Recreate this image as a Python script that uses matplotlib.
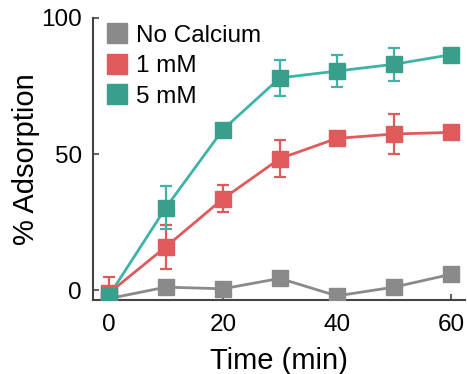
import numpy as np
import matplotlib.pyplot as plt

plt.rcParams['font.family'] = ['Liberation Sans', 'DejaVu Sans']

time_min = [0, 10, 20, 30, 40, 50, 60]

no_ca = [-3, 1.2, 0.6, 4.4, -2, 1.2, 5.9]
no_ca_err = [0, 0, 0, 0, 2.2, 0, 0]

ca_1mm = [-1, 16, 33.6, 48.4, 55.8, 57.4, 58]
ca_1mm_err = [6, 8, 5, 6.7, 0, 7.4, 0]

ca_5mm = [-2, 30.4, 59, 78, 80.5, 83, 86.5]
ca_5mm_err = [0, 8, 1, 6.5, 6, 6, 1.5]

series = [
    ("No Calcium", no_ca, no_ca_err, "#8a8a8a", "#8a8a8a"),
    ("1 mM", ca_1mm, ca_1mm_err, "#e05a5c", "#e05a5c"),
    ("5 mM", ca_5mm, ca_5mm_err, "#3a9e8c", "#3fb3a6"),
]

fig = plt.figure(figsize=(4.67, 3.74), dpi=100)
ax = fig.add_axes([0.199, 0.198, 0.797, 0.754])

for label, y, err, mcol, lcol in series:
    ax.errorbar(time_min, y, yerr=err, color=lcol, lw=2, elinewidth=1.6,
                capsize=4, capthick=1.6, zorder=2)
    ax.plot(time_min, y, ls='none', marker='s', ms=12, color=mcol,
            mec=mcol, label=label, zorder=3)

ax.set_xlim(-2.8, 62.5)
ax.set_ylim(-3.5, 100)
ax.set_xticks([0, 20, 40, 60])
ax.set_yticks([0, 50, 100])

for s in ['top', 'right']:
    ax.spines[s].set_visible(False)
for s in ['left', 'bottom']:
    ax.spines[s].set_color('#444444')
    ax.spines[s].set_linewidth(1.5)

ax.tick_params(direction='in', length=4, width=1.2, color='#444444',
               labelsize=17.5)
ax.tick_params(axis='x', pad=10)
ax.tick_params(axis='y', pad=8)
ax.set_xlabel('Time (min)', fontsize=21, labelpad=8)
ax.set_ylabel('% Adsorption', fontsize=21, labelpad=0.5)

ax.legend(loc='upper left', frameon=False, fontsize=17.5, handlelength=0.9,
          handletextpad=0.3, labelspacing=0.35, borderaxespad=0.0,
          bbox_to_anchor=(0.01, 1.01), markerscale=1.15)

fig.savefig('out.png', dpi=100)
